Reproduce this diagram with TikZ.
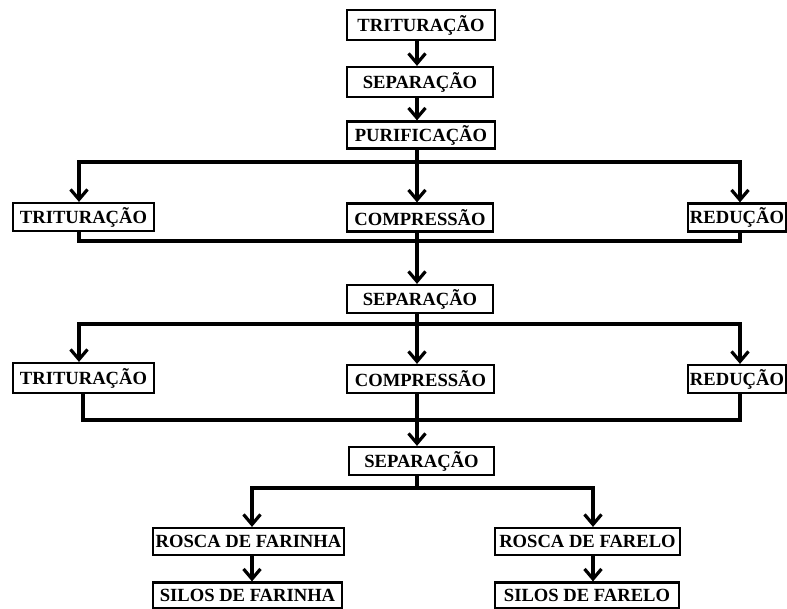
\documentclass[tikz,border=0pt]{standalone}
\usepackage{fontspec}
\setmainfont{Liberation Serif}
\usetikzlibrary{arrows.meta}
\begin{document}
\begin{tikzpicture}[x=1pt,y=-1pt,
  box/.style={draw, line width=2.2pt, inner sep=0pt, font=\bfseries\fontsize{18.6}{18.6}\selectfont, minimum height=28pt},
  conn/.style={line width=3.2pt},
  arr/.style={conn,-{Straight Barb[length=10pt,width=17pt]}}]
\useasboundingbox (0,0) rectangle (787,609);
\node[box,minimum width=148pt,minimum height=30pt] (t1) at (421,25) {TRITURAÇÃO};
\node[box,minimum width=146pt,minimum height=30pt] (s1) at (420,82) {SEPARAÇÃO};
\node[box,minimum width=148pt,minimum height=27pt] (p1) at (421,135) {PURIFICAÇÃO};
\node[box,minimum width=141pt] (tr1) at (83.5,217) {TRITURAÇÃO};
\node[box,minimum width=146pt] (c1) at (420,217.5) {COMPRESSÃO};
\node[box,minimum width=98pt] (r1) at (737,217.5) {REDUÇÃO};
\node[box,minimum width=146pt] (s2) at (420,299) {SEPARAÇÃO};
\node[box,minimum width=141pt,minimum height=30pt] (tr2) at (83.5,378) {TRITURAÇÃO};
\node[box,minimum width=147pt] (c2) at (420.5,379) {COMPRESSÃO};
\node[box,minimum width=98pt] (r2) at (737,379) {REDUÇÃO};
\node[box,minimum width=145pt] (s3) at (421.5,461) {SEPARAÇÃO};
\node[box,minimum width=191pt,minimum height=27pt] (rf) at (248.5,541.5) {ROSCA DE FARINHA};
\node[box,minimum width=189pt,minimum height=26pt] (sf) at (247.5,595.5) {SILOS DE FARINHA};
\node[box,minimum width=185pt,minimum height=27pt] (rfa) at (587.5,541.5) {ROSCA DE FARELO};
\node[box,minimum width=184pt,minimum height=26pt] (sfa) at (587,595.5) {SILOS DE FARELO};
\coordinate (xm) at (417,0);
\coordinate (xl) at (79,0);
\coordinate (xl2) at (83,0);
\coordinate (xr) at (740,0);
\coordinate (xbl) at (252,0);
\coordinate (xbr) at (593,0);
\coordinate (h1) at (0,162);
\coordinate (h2) at (0,241);
\coordinate (h3) at (0,324);
\coordinate (h4) at (0,420);
\coordinate (h5) at (0,488);
\draw[arr] (t1.south -| xm) -- (s1.north -| xm);
\draw[arr] (s1.south -| xm) -- (p1.north -| xm);
\draw[arr] (p1.south -| xm) -- (c1.north -| xm);
\draw[arr] (h1 -| xm) -- (h1 -| xl) -- (tr1.north -| xl);
\draw[arr] (h1 -| xm) -- (h1 -| xr) -- (r1.north -| xr);
\draw[conn] (tr1.south -| xl) -- (h2 -| xl) -- (h2 -| xr) -- (r1.south -| xr);
\draw[arr] (c1.south -| xm) -- (s2.north -| xm);
\draw[arr] (s2.south -| xm) -- (c2.north -| xm);
\draw[arr] (h3 -| xm) -- (h3 -| xl) -- (tr2.north -| xl);
\draw[arr] (h3 -| xm) -- (h3 -| xr) -- (r2.north -| xr);
\draw[conn] (tr2.south -| xl2) -- (h4 -| xl2) -- (h4 -| xr) -- (r2.south -| xr);
\draw[arr] (c2.south -| xm) -- (s3.north -| xm);
\draw[conn] (s3.south -| xm) -- (h5 -| xm);
\draw[arr] (h5 -| xm) -- (h5 -| xbl) -- (rf.north -| xbl);
\draw[arr] (h5 -| xm) -- (h5 -| xbr) -- (rfa.north -| xbr);
\draw[arr] (rf.south -| xbl) -- (sf.north -| xbl);
\draw[arr] (rfa.south -| xbr) -- (sfa.north -| xbr);
\end{tikzpicture}
\end{document}
